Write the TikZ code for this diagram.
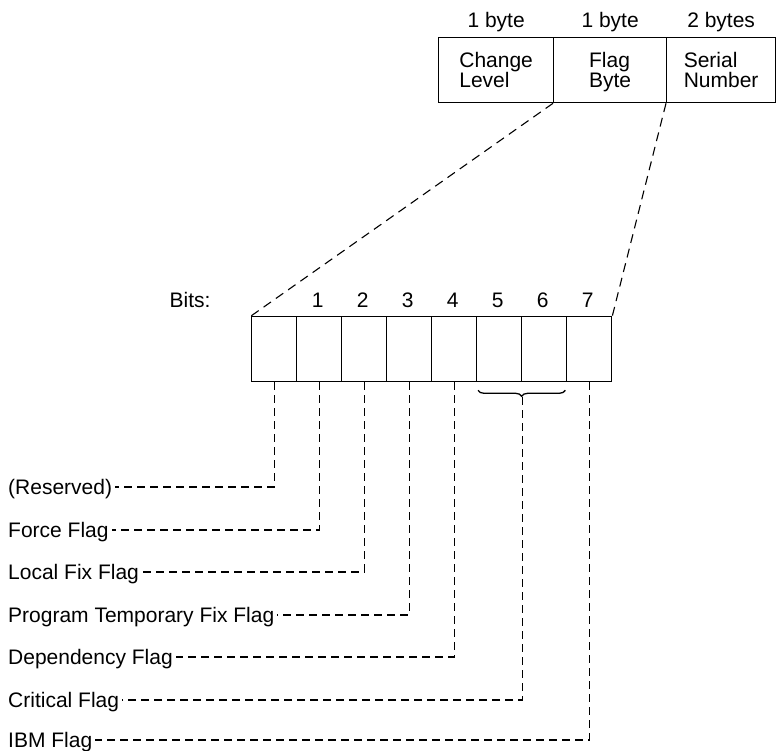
\documentclass[tikz,border=0pt]{standalone}
\usepackage{fontspec}
\setmainfont{Liberation Sans}
\usetikzlibrary{decorations.pathreplacing,calc}
\begin{document}
\begin{tikzpicture}[x=1pt,y=1pt,
  every node/.style={font=\fontsize{21}{20.5}\selectfont, inner sep=0pt},
  cell/.style={draw, line width=1.3pt, minimum width=45pt, minimum height=65pt, anchor=north west},
  hbox/.style={draw, line width=1.3pt, minimum height=65pt, anchor=north west},
  htext/.style={align=left},
  lead/.style={line width=1.1pt, dash pattern=on 8pt off 5pt},
  slant/.style={line width=1.1pt, dash pattern=on 9pt off 6pt},
  lab/.style={anchor=base west, text height=15pt, text depth=0pt}
]
\useasboundingbox (0,0) rectangle (776,-751);
% header boxes
\node[hbox, minimum width=115pt] (t0) at (438,-37) {};
\node[hbox, minimum width=113pt] (t1) at (553,-37) {};
\node[hbox, minimum width=109pt] (t2) at (666,-37) {};
\node[htext] (h0) at ($(t0.center)+(0,-2)$) {Change\\Level\vphantom{Ay}};
\node[htext] (h1) at ($(t1.center)+(0,-2)$) {Flag\\Byte\vphantom{Ay}};
\node[htext] (h2) at ($(t2.center)+(0,-2)$) {Serial\\Number\vphantom{Ay}};
\node (s0) at ($(t0.north)+(0,15)$) {1 byte};
\node (s1) at ($(t1.north)+(0,15)$) {1 byte};
\node (s2) at ($(t2.north)+(0,15)$) {2 bytes};
% bit cells
\foreach \i in {0,...,7} \node[cell] (b\i) at (251+45*\i,-316) {};
\foreach \i in {1,...,7} \node (n\i) at ($(b\i.north)+(-1.5,16)$) {\i};
\node (bits) at (190,-300) {Bits:};
% slanted expansion lines
\draw[slant] (t1.south west) -- (b0.north west);
\draw[slant] (t2.south west) -- (b7.north east);
% brace under bits 5-6
\draw[line width=1.3pt, decorate, decoration={brace, amplitude=6pt, mirror}]
  ($(b5.south west)+(2,-8)$) -- ($(b6.south east)+(-2,-8)$);
\coordinate (bt) at ($(b5.south east)+(0,-15)$);
% labels
\node[lab] (l0) at (8,-494.5) {(Reserved)};
\node[lab] (l1) at (8,-537.5) {Force Flag};
\node[lab] (l2) at (8,-579.5) {Local Fix Flag};
\node[lab] (l3) at (8,-622.5) {Program Temporary Fix Flag};
\node[lab] (l4) at (8,-664.5) {Dependency Flag};
\node[lab] (l5) at (8,-707.5) {Critical Flag};
\node[lab] (l6) at (8,-747.5) {IBM Flag};
% leader lines
\draw[lead] (b0.south) |- ($(l0.east)+(3,0)$);
\draw[lead] (b1.south) |- ($(l1.east)+(3,0)$);
\draw[lead] (b2.south) |- ($(l2.east)+(3,0)$);
\draw[lead] (b3.south) |- ($(l3.east)+(3,0)$);
\draw[lead] (b4.south) |- ($(l4.east)+(3,0)$);
\draw[lead] (bt) |- ($(l5.east)+(3,0)$);
\draw[lead] (b7.south) |- ($(l6.east)+(3,0)$);
\end{tikzpicture}
\end{document}
